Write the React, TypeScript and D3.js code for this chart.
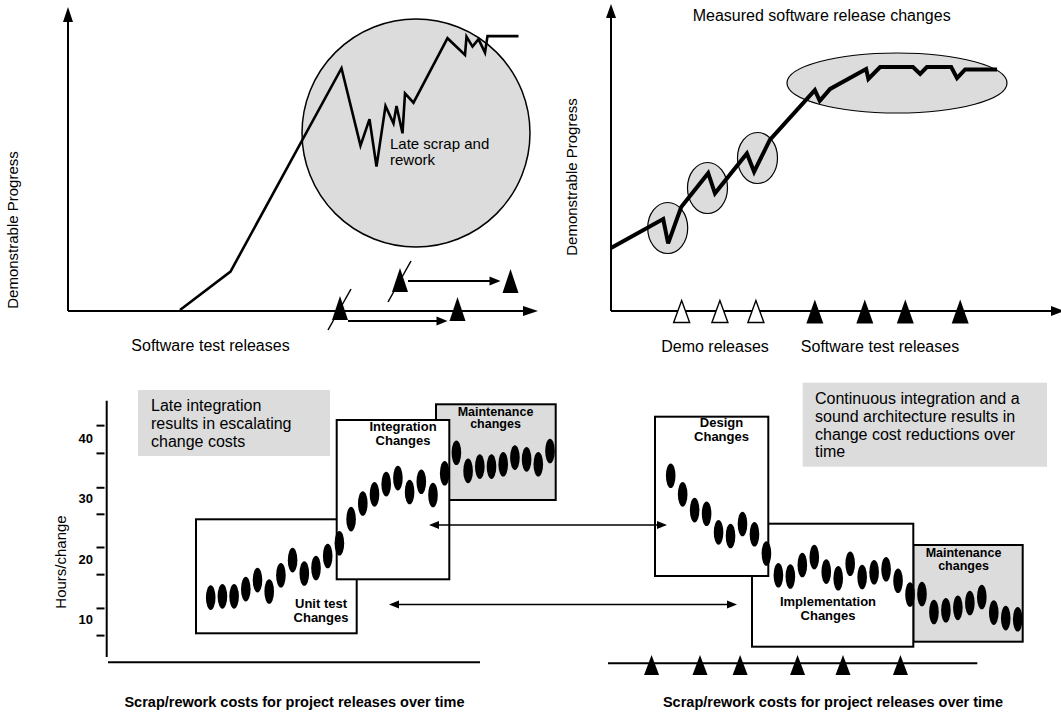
import React from 'react';
import * as d3 from 'd3';

const FONT = '"Liberation Sans", Arial, Helvetica, sans-serif';
const GRAY = '#dcdcdc';

// ---- Top-left panel: late scrap and rework (release time, progress %)
const lateReleaseTime = [22.4, 32.5, 54.7, 58.5, 60.3, 61.7, 63.5, 65.1, 65.7, 66.9, 67.4, 69.1, 75.9, 79.4, 79.7, 80.9, 82.1, 83.4, 83.9, 90.1];
const lateProgress = [0, 12.8, 80.6, 54.8, 63.6, 47.8, 68, 62.2, 68, 58.9, 72.2, 69.1, 90.6, 85, 91.1, 87.8, 90.3, 85.8, 91.3, 91.3];
const plannedTestReleases = [54.4, 66.4];
const actualTestReleases = [77.9, 88.5];

// ---- Top-right panel: measured software release changes
const measuredTime = [0, 11.6, 12.7, 15.6, 21.6, 23.1, 30.2, 31.8, 35.3, 45.3, 46.4, 48.7, 56.7, 57.2, 59.8, 67.1, 68.7, 70.2, 75.6, 76.9, 78.7, 85.8];
const measuredProgress = [20.7, 30.3, 22.2, 34.3, 45.6, 38.9, 52.2, 46.1, 56.7, 73.3, 69.7, 73.7, 80.3, 77, 81, 81, 78.7, 81, 81, 77.3, 80.2, 80.2];
const demoReleases = [15.7, 24.2, 32.2];
const softwareTestReleases = [45.3, 56.4, 65.4, 77.6];

// ---- Bottom panels: hours per change by release index
const hoursTickLabels = [10, 20, 30, 40];
const hoursTickMarks = [7.3, 11.8, 17.4, 21.9, 27.4, 31.8, 37.5, 42.1];
const lateIntegrationHours = [13.6, 13.8, 13.8, 15.0, 16.5, 14.6, 17.3, 19.8, 17.6, 18.5, 20.5, 22.6, 26.6, 29.2, 30.7, 32.4, 33.4, 31.1, 32.8, 30.6, 34.2, 37.6, 34.6, 35.3, 35.3, 35.7, 36.8, 36.5, 35.7, 37.9];
const continuousIntegrationHours = [33.8, 30.7, 28.1, 27.5, 24.4, 23.8, 25.8, 24.1, 20.9, 17.3, 17.1, 19.0, 20.3, 17.9, 16.8, 19.2, 17.0, 17.8, 18.3, 16.4, 14.1, 14.2, 11.2, 11.5, 11.9, 12.7, 13.7, 11.1, 10.2, 10.0];
const projectReleases = [-1.6, 2.45, 5.8, 10.6, 14.4, 19.2];

const triPath = (cx: number, base: number, w: number, h: number) =>
  `M${cx - w / 2},${base} L${cx},${base - h} L${cx + w / 2},${base} Z`;

function HArrow({ x1, x2, y, w = 2, len = 11, hw = 4.5, both = false }: any) {
  const dir = x2 > x1 ? 1 : -1;
  const head = (tx: number, d: number) =>
    `M${tx},${y} L${tx - d * len},${y - hw} L${tx - d * len},${y + hw} Z`;
  return (
    <g>
      <line x1={both ? x1 + dir * (len - 2) : x1} x2={x2 - dir * (len - 2)} y1={y} y2={y} stroke="#000" strokeWidth={w} />
      <path d={head(x2, dir)} fill="#000" />
      {both && <path d={head(x1, -dir)} fill="#000" />}
    </g>
  );
}

function Lines({ x, ys, anchor = 'start', size, weight = 'normal', lh, y0 }: any) {
  return (
    <g>
      {ys.map((t: string, i: number) => (
        <text key={i} x={x} y={y0 + i * lh} textAnchor={anchor} fontSize={size} fontWeight={weight} fontFamily={FONT} fill="#000">
          {t}
        </text>
      ))}
    </g>
  );
}

export default function App() {
  const tlX = d3.scaleLinear().domain([0, 90]).range([68, 518]);
  const pY = d3.scaleLinear().domain([0, 100]).range([310, 10]);
  const trX = d3.scaleLinear().domain([0, 100]).range([611, 1061]);
  const hY = d3.scaleLinear().domain([10, 40]).range([619.3, 438.3]);
  const blX = d3.scaleLinear().domain([0, 29]).range([210.7, 550]);
  const brX = d3.scaleLinear().domain([0, 29]).range([670.7, 1017.7]);

  const lateLine = d3.line<number>().x((_, i) => tlX(lateReleaseTime[i])).y((d) => pY(d))(lateProgress) || '';
  const measuredLine = d3.line<number>().x((_, i) => trX(measuredTime[i])).y((d) => pY(d))(measuredProgress) || '';

  const rowBase = [320, 292];
  const rowArrowY = [321, 281];

  return (
    <svg width={1061} height={715} style={{ position: 'absolute', left: 0, top: 0, background: '#fff' }} fontFamily={FONT}>
      <rect x={0} y={0} width={1061} height={715} fill="#fff" />

      {/* ================= TOP LEFT ================= */}
      <circle cx={416} cy={133} r={114} fill={GRAY} stroke="#000" strokeWidth={1.5} />
      <line x1={68} y1={311} x2={68} y2={20} stroke="#000" strokeWidth={2} />
      <path d="M68,7 L63,22 L73,22 Z" fill="#000" />
      <line x1={68} y1={311} x2={525} y2={311} stroke="#000" strokeWidth={2} />
      <path d="M538,311 L523,306 L523,316 Z" fill="#000" />
      <path d={lateLine} fill="none" stroke="#000" strokeWidth={2.6} strokeLinejoin="miter" />
      <Lines x={390} y0={149} lh={15.5} size={15} ys={['Late scrap and', 'rework']} />
      {plannedTestReleases.map((v, i) => {
        const cx = tlX(v);
        const b = rowBase[i];
        return (
          <g key={'p' + i}>
            <path d={triPath(cx, b, 16, 24)} fill="#000" />
            <line x1={cx - 12} y1={b + 10} x2={cx + 11} y2={b - 31} stroke="#000" strokeWidth={1.5} />
          </g>
        );
      })}
      {actualTestReleases.map((v, i) => (
        <path key={'a' + i} d={triPath(tlX(v), rowBase[i] + 1, 16, 24)} fill="#000" />
      ))}
      {plannedTestReleases.map((v, i) => (
        <HArrow key={'ar' + i} x1={tlX(v) + 8} x2={tlX(actualTestReleases[i]) - 10} y={rowArrowY[i]} w={2} len={11} hw={4.5} />
      ))}
      <text x={210.5} y={351} textAnchor="middle" fontSize={16}>Software test releases</text>
      <text transform="translate(18,230) rotate(-90)" textAnchor="middle" fontSize={15}>Demonstrable Progress</text>

      {/* ================= TOP RIGHT ================= */}
      <ellipse cx={897} cy={83} rx={110} ry={30} fill={GRAY} stroke="#000" strokeWidth={1.2} />
      <ellipse cx={667.7} cy={228} rx={20} ry={25.5} fill={GRAY} stroke="#000" strokeWidth={1.2} />
      <ellipse cx={707.5} cy={188} rx={20} ry={25.5} fill={GRAY} stroke="#000" strokeWidth={1.2} />
      <ellipse cx={757.5} cy={158} rx={20} ry={25.5} fill={GRAY} stroke="#000" strokeWidth={1.2} />
      <line x1={611} y1={311} x2={611} y2={16} stroke="#000" strokeWidth={2} />
      <path d="M611,4 L606,18 L616,18 Z" fill="#000" />
      <line x1={611} y1={311} x2={1055} y2={311} stroke="#000" strokeWidth={2} />
      <path d="M1064,311 L1051,306 L1051,316 Z" fill="#000" />
      <path d={measuredLine} fill="none" stroke="#000" strokeWidth={4} strokeLinejoin="miter" strokeMiterlimit={3} />
      {demoReleases.map((v, i) => (
        <path key={'d' + i} d={triPath(trX(v), 322.5, 16, 22)} fill="#fff" stroke="#000" strokeWidth={1.4} />
      ))}
      {softwareTestReleases.map((v, i) => (
        <path key={'s' + i} d={triPath(trX(v), 323.5, 17, 24)} fill="#000" />
      ))}
      <text x={821.7} y={21} textAnchor="middle" fontSize={16}>Measured software release changes</text>
      <text x={715} y={352} textAnchor="middle" fontSize={16}>Demo releases</text>
      <text x={880} y={352} textAnchor="middle" fontSize={16}>Software test releases</text>
      <text transform="translate(577,177) rotate(-90)" textAnchor="middle" fontSize={15}>Demonstrable Progress</text>

      {/* ================= BOTTOM LEFT ================= */}
      <rect x={138} y={390} width={192} height={66} fill={GRAY} />
      <Lines x={151} y0={410.5} lh={18.2} size={16} ys={['Late integration', 'results in escalating', 'change costs']} />
      <line x1={106.7} y1={400.7} x2={106.7} y2={657} stroke="#000" strokeWidth={2} />
      <line x1={108} y1={662.3} x2={480} y2={662.3} stroke="#000" strokeWidth={2} />
      {hoursTickMarks.map((v, i) => (
        <line key={'t' + i} x1={96.5} x2={104.5} y1={hY(v)} y2={hY(v)} stroke="#000" strokeWidth={2} />
      ))}
      {hoursTickLabels.map((v) => (
        <text key={'l' + v} x={93} y={hY(v)} dy="0.36em" textAnchor="end" fontSize={13} fontWeight="bold">{v}</text>
      ))}
      <text transform="translate(66,562) rotate(-90)" textAnchor="middle" fontSize={15}>Hours/change</text>

      <rect x={196} y={519.3} width={160.7} height={114} fill="#fff" stroke="#000" strokeWidth={2} />
      <rect x={436} y={404.3} width={119.7} height={95.7} fill={GRAY} stroke="#000" strokeWidth={2} />
      <rect x={336.7} y={420} width={112.6} height={159.3} fill="#fff" stroke="#000" strokeWidth={2} />
      <Lines x={321} y0={608} lh={14} size={13} weight="bold" anchor="middle" ys={['Unit test', 'Changes']} />
      <Lines x={403} y0={430.7} lh={14} size={13} weight="bold" anchor="middle" ys={['Integration', 'Changes']} />
      <Lines x={495.5} y0={415.5} lh={12.5} size={12.5} weight="bold" anchor="middle" ys={['Maintenance', 'changes']} />

      {/* ================= BOTTOM RIGHT ================= */}
      <rect x={802.7} y={382.7} width={244.3} height={84} fill={GRAY} />
      <Lines x={815} y0={404.3} lh={17.7} size={16} ys={['Continuous integration and a', 'sound architecture results in', 'change cost reductions over', 'time']} />
      <rect x={913.3} y={545} width={109.4} height={96.7} fill={GRAY} stroke="#000" strokeWidth={2} />
      <rect x={752} y={523.7} width={161.3} height={123} fill="#fff" stroke="#000" strokeWidth={2} />
      <rect x={655} y={416.7} width={113.3} height={159.3} fill="#fff" stroke="#000" strokeWidth={2} />
      <Lines x={721.5} y0={427} lh={14.3} size={13} weight="bold" anchor="middle" ys={['Design', 'Changes']} />
      <Lines x={828} y0={606} lh={14} size={13} weight="bold" anchor="middle" ys={['Implementation', 'Changes']} />
      <Lines x={963.5} y0={557} lh={12.5} size={12.5} weight="bold" anchor="middle" ys={['Maintenance', 'changes']} />

      {/* arrows linking the two scenarios */}
      <HArrow x1={429} x2={667} y={525} w={1.6} len={10} hw={4} both />
      <HArrow x1={389} x2={737} y={604.5} w={1.6} len={10} hw={4} both />

      {lateIntegrationHours.map((v, i) => (
        <ellipse key={'ld' + i} cx={blX(i)} cy={hY(v)} rx={4.8} ry={12.3} fill="#000" />
      ))}
      {continuousIntegrationHours.map((v, i) => (
        <ellipse key={'rd' + i} cx={brX(i)} cy={hY(v)} rx={4.8} ry={12.3} fill="#000" />
      ))}
      <text x={294.5} y={707} textAnchor="middle" fontSize={14.5} fontWeight="bold">Scrap/rework costs for project releases over time</text>

      <line x1={608} y1={663.3} x2={977.3} y2={663.3} stroke="#000" strokeWidth={2} />
      {projectReleases.map((v, i) => (
        <path key={'pr' + i} d={triPath(brX(v), 675, 15, 20)} fill="#000" />
      ))}
      <text x={833} y={707} textAnchor="middle" fontSize={14.5} fontWeight="bold">Scrap/rework costs for project releases over time</text>
    </svg>
  );
}
